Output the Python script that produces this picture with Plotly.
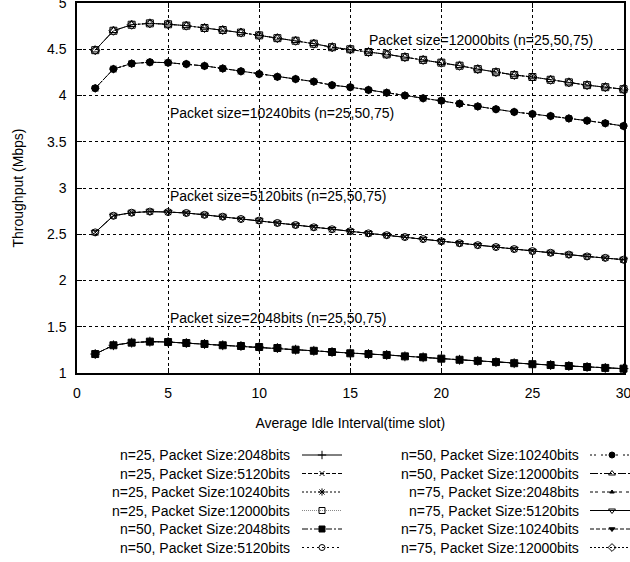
import plotly.graph_objects as go

# ---------------- data ----------------
idle_interval = list(range(1, 31))

tp_2048 = [1.205, 1.300, 1.328, 1.339, 1.335, 1.324, 1.314, 1.300, 1.292, 1.281,
           1.270, 1.252, 1.240, 1.227, 1.213, 1.205, 1.195, 1.180, 1.170, 1.155,
           1.143, 1.131, 1.118, 1.106, 1.095, 1.086, 1.076, 1.065, 1.055, 1.047]
tp_5120 = [2.520, 2.700, 2.733, 2.745, 2.740, 2.730, 2.710, 2.690, 2.665, 2.648,
           2.622, 2.600, 2.575, 2.554, 2.532, 2.510, 2.490, 2.470, 2.448, 2.424,
           2.403, 2.382, 2.362, 2.340, 2.318, 2.300, 2.280, 2.260, 2.245, 2.225]
tp_10240 = [4.078, 4.286, 4.345, 4.360, 4.355, 4.340, 4.320, 4.292, 4.262, 4.232,
            4.202, 4.178, 4.150, 4.112, 4.090, 4.060, 4.030, 4.000, 3.970, 3.944,
            3.912, 3.882, 3.852, 3.822, 3.800, 3.778, 3.752, 3.728, 3.700, 3.670]
tp_12000 = [4.490, 4.700, 4.765, 4.780, 4.770, 4.755, 4.730, 4.708, 4.680, 4.650,
            4.620, 4.592, 4.560, 4.522, 4.500, 4.470, 4.445, 4.415, 4.385, 4.355,
            4.322, 4.285, 4.252, 4.222, 4.200, 4.170, 4.142, 4.112, 4.090, 4.068]

node_counts = [25, 50, 75]
packet_sizes = [2048, 5120, 10240, 12000]
throughput = {2048: tp_2048, 5120: tp_5120, 10240: tp_10240, 12000: tp_12000}

curve_labels = [
    "Packet size=12000bits (n=25,50,75)",
    "Packet size=10240bits (n=25,50,75)",
    "Packet size=5120bits (n=25,50,75)",
    "Packet size=2048bits (n=25,50,75)",
]
label_x = [15.9, 5, 5, 5]
label_y = [4.60, 3.81, 2.91, 1.595]

x_ticks = [0, 5, 10, 15, 20, 25, 30]
y_ticks = [1, 1.5, 2, 2.5, 3, 3.5, 4, 4.5, 5]

# ---------------- styles (order: n=25 all sizes, n=50 ..., n=75 ...) -------
symbols = ["cross-thin-open", "x-thin-open", "asterisk-open", "square-open",
           "square", "circle-open", "circle", "triangle-up-open",
           "triangle-up", "triangle-down-open", "triangle-down", "diamond-open"]
dashes = ["solid", "4px,2px", "2px,2px", "1px,1px",
          "6px,2px,2px,2px", "2px,3px", "2px,2px,2px,5px", "8px,2px,2px,2px",
          "3px,2px,3px,4px", "solid", "4px,2px", "2px,2px"]
line_colors = ["black", "black", "black", "#888888",
               "black", "black", "black", "black",
               "black", "black", "black", "black"]
sizes = [7, 6, 7, 7, 7, 7, 7, 7, 5, 7, 6, 7]

FONT = "Liberation Sans, Arial, sans-serif"
PW, PH = 630, 562
L, R, T, B = 77, 623.5, 3, 373  # plot area in pixels

fig = go.Figure()

entries = []
k = 0
for n in node_counts:
    for p in packet_sizes:
        name = f"n={n}, Packet Size:{p}bits"
        entries.append(name)
        fig.add_trace(go.Scatter(
            x=idle_interval, y=throughput[p], mode="lines+markers", name=name,
            showlegend=False, cliponaxis=False,
            line=dict(color="black", width=1, dash=dashes[k]),
            marker=dict(symbol=symbols[k], size=sizes[k], color="black",
                        line=dict(color="black", width=1)),
        ))
        k += 1

for txt, lx, ly in zip(curve_labels, label_x, label_y):
    fig.add_annotation(x=lx, y=ly, text=txt, showarrow=False, xanchor="left",
                       yanchor="middle", font=dict(family=FONT, size=14, color="black"))

# ---------------- custom legend (text left of key, two columns) ------------
col_text_right = [292, 581]
col_key = [(302, 342), (590, 636)]
col_mark = [322, 612]
row_y0, row_dy = 455, 18.5
for i, name in enumerate(entries):
    col, row = divmod(i, 6)
    yy = row_y0 + row * row_dy
    fig.add_annotation(xref="x2", yref="y2", x=col_text_right[col], y=yy,
                       text=name, showarrow=False, xanchor="right", yanchor="middle",
                       font=dict(family=FONT, size=14, color="black"))
    x0, x1 = col_key[col]
    fig.add_trace(go.Scatter(
        x=[x0, x1], y=[yy, yy], xaxis="x2", yaxis="y2", mode="lines",
        showlegend=False, hoverinfo="skip", cliponaxis=False,
        line=dict(color=line_colors[i], width=1, dash=dashes[i]),
    ))
    fig.add_trace(go.Scatter(
        x=[col_mark[col]], y=[yy], xaxis="x2", yaxis="y2",
        mode="markers", showlegend=False, cliponaxis=False, hoverinfo="skip",
        marker=dict(symbol=symbols[i], size=sizes[i] - 1, color="black",
                    line=dict(color="black", width=1)),
    ))

axis_common = dict(
    showline=True, linecolor="black", linewidth=1.5, mirror="ticks",
    ticks="inside", ticklen=5, tickcolor="black",
    showgrid=True, gridcolor="black", gridwidth=1, griddash="dot",
    zeroline=False, ticklabeloverflow="allow", automargin=False,
    tickfont=dict(family=FONT, size=14, color="black"),
)

fig.update_layout(
    width=PW, height=PH,
    margin=dict(l=0, r=0, t=0, b=0, pad=0, autoexpand=False),
    paper_bgcolor="white", plot_bgcolor="rgba(0,0,0,0)",
    font=dict(family=FONT, size=14, color="black"),
    xaxis=dict(domain=[L / PW, R / PW], range=[0, 30], tickvals=x_ticks,
               ticklabelstandoff=6, anchor="y",
               title=dict(text="Average Idle Interval(time slot)", standoff=19,
                          font=dict(family=FONT, size=14)),
               **axis_common),
    yaxis=dict(domain=[1 - B / PH, 1 - T / PH], range=[1, 5], tickvals=y_ticks,
               ticklabelstandoff=6, anchor="x",
               title=dict(text="Throughput (Mbps)", standoff=20,
                          font=dict(family=FONT, size=14)),
               **axis_common),
    xaxis2=dict(domain=[0, 1], range=[0, PW], visible=False, anchor="y2",
                automargin=False),
    yaxis2=dict(domain=[0, 1], range=[PH, 0], visible=False, anchor="x2",
                automargin=False),
)

fig.write_html("out.html")
